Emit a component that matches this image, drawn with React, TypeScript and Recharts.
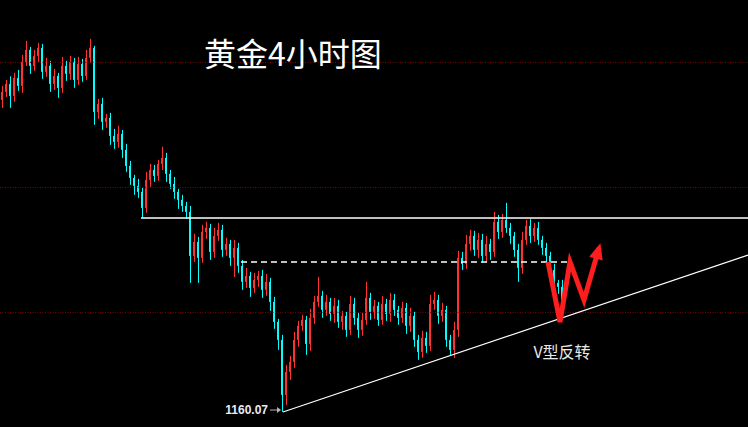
import React from "react";
import {
  ComposedChart,
  Bar,
  Line,
  XAxis,
  YAxis,
  ReferenceLine,
  ReferenceDot,
} from "recharts";

// 4h gold candles (price units)
const firstOpen = 1222.5;
const closes = [
  1224.1, 1225.7, 1223.3, 1226.9, 1225.3, 1230.1, 1232.5, 1229.3, 1231.3, 1232.9,
  1228.1, 1229.3, 1225.7, 1227.3, 1224.9, 1229.3, 1227.7, 1230.1, 1226.5, 1229.7,
  1227.3, 1230.9, 1232.9, 1220.1, 1221.7, 1218.1, 1218.9, 1215.3, 1214.1, 1215.7,
  1212.5, 1209.3, 1206.9, 1205.3, 1204.1, 1200.9, 1206.5, 1208.5, 1207.3, 1209.7,
  1210.9, 1207.7, 1205.7, 1204.1, 1202.5, 1201.3, 1200.1, 1191.3, 1194.1, 1190.9,
  1196.1, 1196.9, 1192.1, 1195.3, 1196.5, 1192.5, 1193.7, 1190.9, 1192.9, 1189.3,
  1186.1, 1187.3, 1184.9, 1186.5, 1187.3, 1184.5, 1186.1, 1182.1, 1178.1, 1174.5,
  1163.5, 1168.1, 1170.1, 1174.5, 1177.3, 1178.5, 1173.7, 1178.9, 1182.1, 1183.3,
  1180.5, 1182.1, 1179.7, 1181.3, 1178.1, 1179.3, 1176.5, 1181.7, 1178.9, 1176.5,
  1178.5, 1182.9, 1180.1, 1181.3, 1178.5, 1181.7, 1179.7, 1182.5, 1180.5, 1178.9,
  1180.9, 1177.3, 1179.3, 1174.5, 1172.1, 1174.9, 1173.3, 1181.7, 1182.5, 1179.3,
  1180.5, 1174.5, 1172.5, 1176.5, 1190.9, 1189.7, 1193.7, 1195.3, 1192.5, 1194.5,
  1191.3, 1193.7, 1192.1, 1198.1, 1196.1, 1198.5, 1196.9, 1195.3, 1192.5, 1188.9,
  1194.5, 1197.3, 1195.3, 1196.9, 1194.5, 1192.9, 1191.3, 1188.5, 1185.9, 1185.1,
  1182.1,
];
const upperWicks = [
  1.2, 0.8, 1.5, 1.0, 1.6, 1.4, 1.8, 0.6, 1.2, 1.0,
  0.8, 1.6, 1.0, 1.4, 0.6, 1.8, 1.0, 1.2, 0.8, 1.4,
  1.0, 1.6, 1.8, 0.4, 1.0, 1.2, 0.8, 1.0, 1.4, 1.6,
  0.8, 1.2, 1.0, 0.6, 1.4, 0.8, 1.6, 1.2, 1.0, 0.8,
  2.2, 1.0, 0.8, 1.4, 0.6, 1.0, 0.8, 1.2, 1.6, 1.0,
  1.4, 1.2, 0.8, 1.6, 1.4, 1.0, 1.2, 0.8, 1.6, 1.0,
  1.2, 1.6, 0.8, 1.4, 1.0, 1.2, 1.6, 0.8, 1.0, 0.6,
  1.0, 1.4, 1.2, 1.6, 1.0, 1.0, 0.8, 1.8, 1.2, 3.8,
  1.0, 1.4, 0.8, 1.6, 1.2, 1.0, 0.8, 1.6, 1.2, 1.0,
  1.4, 3.2, 1.0, 1.2, 0.8, 1.6, 1.0, 1.4, 1.2, 0.8,
  1.2, 1.0, 1.6, 0.8, 1.0, 1.4, 1.2, 1.8, 1.6, 1.0,
  1.4, 0.8, 1.0, 1.6, 1.4, 1.2, 1.8, 1.2, 1.0, 1.4,
  1.2, 1.6, 1.0, 2.0, 1.4, 1.2, 3.4, 1.0, 0.8, 1.2,
  1.6, 1.2, 1.4, 1.0, 1.2, 0.8, 1.0, 0.8, 1.2, 0.6,
  1.4,
];
const lowerWicks = [
  1.6, 1.0, 2.4, 1.2, 1.0, 1.4, 0.8, 1.6, 1.0, 1.2,
  1.4, 1.0, 1.6, 1.2, 2.0, 1.0, 1.4, 1.2, 1.6, 1.0,
  1.2, 0.8, 1.0, 2.6, 1.4, 1.6, 1.2, 1.8, 1.4, 1.2,
  1.6, 1.2, 1.4, 1.8, 1.2, 2.0, 1.0, 1.4, 1.2, 1.0,
  1.2, 1.6, 1.0, 1.4, 1.8, 1.2, 1.4, 5.4, 1.2, 5.0,
  1.0, 1.4, 1.6, 1.2, 1.0, 1.4, 1.2, 1.6, 3.8, 1.4,
  1.6, 1.2, 1.8, 1.0, 1.4, 1.6, 1.2, 1.8, 1.4, 2.0,
  3.4, 2.0, 1.6, 1.2, 1.4, 1.0, 2.2, 1.4, 1.2, 1.0,
  1.6, 1.2, 1.4, 1.8, 1.2, 1.6, 1.4, 1.0, 1.4, 1.6,
  1.2, 1.0, 1.6, 1.4, 1.2, 1.0, 1.4, 1.6, 1.2, 1.4,
  1.0, 1.6, 1.2, 1.4, 1.6, 1.2, 1.4, 1.0, 1.2, 1.6,
  1.2, 1.4, 1.0, 1.6, 1.4, 1.2, 1.0, 1.4, 1.2, 1.6,
  1.4, 1.2, 1.6, 1.0, 1.4, 1.2, 1.0, 1.6, 1.4, 2.8,
  1.2, 1.0, 1.4, 1.2, 1.0, 1.4, 1.2, 1.6, 1.2, 1.4,
  1.2,
];

const gridPrices = [1230, 1205, 1180];
const resistancePrice = 1198.87;
const necklinePrice = 1190.07;
const lowPrice = 1160.07;
const trendEndPrice = 1191.47;
// hand-drawn "V" arrow path (candle index, price)
const arrowIdx = [136.5, 139.5, 142, 145.5, 149.25];
const arrowPrice = [1190.07, 1178.07, 1190.07, 1182.47, 1192.87];

const RED = "#ff3232";
const CYAN = "#00ffff";

const candles = closes.map((c, i) => {
  const o = i === 0 ? firstOpen : closes[i - 1];
  const hi = Math.max(o, c) + upperWicks[i];
  const lo = Math.min(o, c) - lowerWicks[i];
  return { idx: i, open: o, close: c, high: hi, low: lo, range: [lo, hi] };
});

const arrowData = arrowIdx.map((idx, i) => ({ idx, price: arrowPrice[i] }));

function Candle(props: any) {
  const { x, y, width, height, payload } = props;
  if (!payload) return null;
  const { open, close, high, low } = payload;
  const k = height / (high - low);
  const yOf = (p: number) => y + (high - p) * k;
  const color = close >= open ? RED : CYAN;
  const top = yOf(Math.max(open, close));
  const bodyH = Math.max(1, Math.abs(yOf(open) - yOf(close)));
  const cx = Math.round(x + width / 2) + 0.5;
  return (
    <g>
      <line x1={cx} x2={cx} y1={y} y2={y + height} stroke={color} strokeWidth={1} />
      <rect x={x} y={top} width={width} height={bodyH} fill={color} />
    </g>
  );
}

function ArrowHead(props: any) {
  const { index, cx, cy, points } = props;
  if (index !== arrowIdx.length - 1) return <g key={`a${index}`} />;
  const prev = points && points[index - 1] ? points[index - 1] : { x: cx - 5, y: cy + 14 };
  const ang = Math.atan2(cy - prev.y, cx - prev.x);
  const cos = Math.cos(ang);
  const sin = Math.sin(ang);
  const tx = cx + cos * 5;
  const ty = cy + sin * 5;
  const bx = tx - cos * 16;
  const by = ty - sin * 16;
  const w = 7;
  const pts = `${tx},${ty} ${bx - sin * w},${by + cos * w} ${bx + sin * w},${by - cos * w}`;
  return <polygon key={`a${index}`} points={pts} fill="#ff1e1e" />;
}

function LowLabel(props: any) {
  const { cx, cy } = props;
  return (
    <g>
      <text
        x={cx - 14}
        y={cy - 2}
        textAnchor="end"
        dominantBaseline="central"
        fill="#e6ebf5"
        fontSize={12}
        fontWeight="bold"
        fontFamily="Arial, 'Liberation Sans', sans-serif"
      >
        {lowPrice.toFixed(2)}
      </text>
      <line x1={cx - 12} x2={cx - 2} y1={cy - 2} y2={cy - 2} stroke="#b4b4b4" strokeWidth={1} />
      <path d={`M${cx - 1},${cy - 2} L${cx - 5},${cy - 5} L${cx - 5},${cy + 1} Z`} fill="#b4b4b4" />
    </g>
  );
}

function VLabel(props: any) {
  const { cx, cy } = props;
  return (
    <text
      x={cx}
      y={cy}
      textAnchor="middle"
      dominantBaseline="central"
      fill="#e8e8e8"
      fontSize={16}
      fontFamily="'Noto Sans CJK SC', sans-serif"
    >
      V型反转
    </text>
  );
}

export default function App() {
  return (
    <div
      style={{
        position: "absolute",
        top: 0,
        left: 0,
        width: 748,
        height: 427,
        background: "#000",
        overflow: "hidden",
      }}
    >
      <ComposedChart
        width={748}
        height={427}
        data={candles}
        margin={{ top: 0, right: 0, bottom: 0, left: 0 }}
      >
        <XAxis dataKey="idx" type="number" domain={[-0.5, 186.5]} allowDataOverflow hide />
        <YAxis type="number" domain={[1157.07, 1242.47]} allowDataOverflow hide />
        {gridPrices.map((p) => (
          <ReferenceLine key={p} y={p} stroke="#7a0a0a" strokeDasharray="1 1.5" strokeWidth={1} />
        ))}
        <ReferenceLine
          segment={[
            { x: 34.75, y: resistancePrice },
            { x: 186.5, y: resistancePrice },
          ]}
          stroke="#ffffff"
          strokeWidth={1.5}
        />
        <ReferenceLine
          segment={[
            { x: 59.75, y: necklinePrice },
            { x: 141.5, y: necklinePrice },
          ]}
          stroke="#ffffff"
          strokeWidth={1.5}
          strokeDasharray="6 4"
        />
        <ReferenceLine
          segment={[
            { x: 70.25, y: lowPrice },
            { x: 186.5, y: trendEndPrice },
          ]}
          stroke="#ffffff"
          strokeWidth={1.2}
        />
        <Bar dataKey="range" barSize={3} shape={Candle} isAnimationActive={false} />
        <Line
          data={arrowData}
          dataKey="price"
          stroke="#ff1e1e"
          strokeWidth={5}
          strokeLinejoin="miter"
          dot={ArrowHead}
          activeDot={false}
          isAnimationActive={false}
        />
        <ReferenceDot x={70} y={lowPrice} r={0} shape={LowLabel} />
        <ReferenceDot x={140} y={1172.27} r={0} shape={VLabel} />
      </ComposedChart>
      <div
        style={{
          position: "absolute",
          left: 204,
          top: 34,
          color: "#fff",
          fontSize: 32,
          lineHeight: "36px",
          fontFamily: "'Noto Sans CJK SC', sans-serif",
          whiteSpace: "nowrap",
        }}
      >
        黄金4小时图
      </div>
    </div>
  );
}
